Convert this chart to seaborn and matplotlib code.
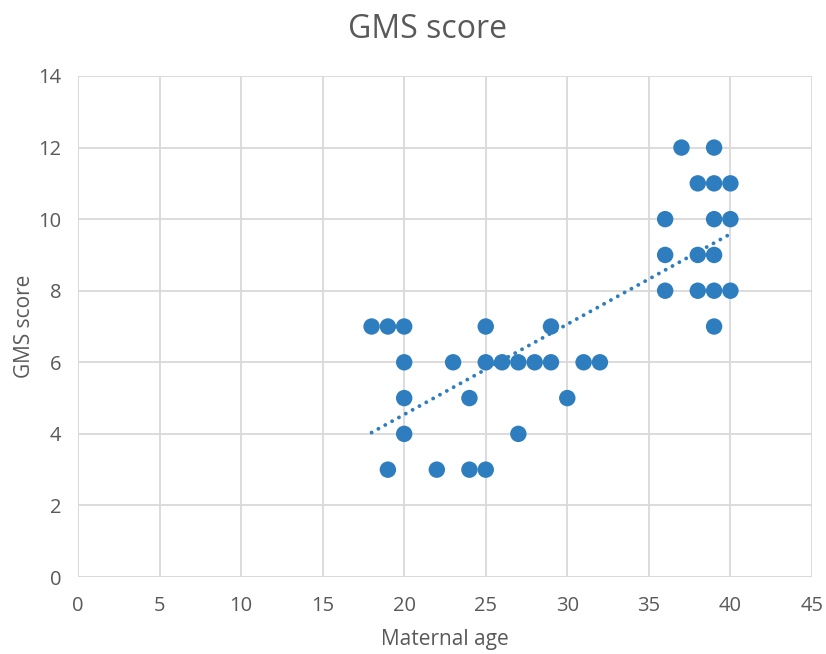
import numpy as np
import pandas as pd
import matplotlib
matplotlib.use("Agg")
import matplotlib.pyplot as plt
import seaborn as sb

# maternal age vs GMS score
maternal_age = [18, 19, 20, 25, 29,
                20, 23, 25, 26, 27, 28, 29, 31, 32,
                20, 24, 30,
                20, 27,
                19, 22, 24, 25,
                37, 39,
                38, 39, 40,
                36, 39, 40,
                36, 38, 39,
                36, 38, 39, 40,
                39]
gms_score = [7, 7, 7, 7, 7,
             6, 6, 6, 6, 6, 6, 6, 6, 6,
             5, 5, 5,
             4, 4,
             3, 3, 3, 3,
             12, 12,
             11, 11, 11,
             10, 10, 10,
             9, 9, 9,
             8, 8, 8, 8,
             7]
x_ticks = [0, 5, 10, 15, 20, 25, 30, 35, 40, 45]
y_ticks = [0, 2, 4, 6, 8, 10, 12, 14]

grey = "#595959"
grid = "#d9d9d9"
blue = "#2e7ebf"

data = pd.DataFrame({"Maternal age": maternal_age, "GMS score": gms_score})

sb.set_style("white")
plt.rcParams['font.family'] = ['Open Sans', 'DejaVu Sans']

fig = plt.figure(figsize=(8.26, 6.54), dpi=100)
ax = fig.add_axes([0.0944, 0.1177, 0.8886, 0.7661])

sb.scatterplot(data=data, x="Maternal age", y="GMS score", ax=ax,
               color=blue, s=140, edgecolor="none", zorder=3)

# linear trendline
slope, intercept = np.polyfit(maternal_age, gms_score, 1)
tx = np.array([min(maternal_age), max(maternal_age)])
ax.plot(tx, slope * tx + intercept, linestyle=(0, (0.01, 2.0)), color=blue,
        linewidth=2.8, dash_capstyle="round", zorder=2)

ax.set_xlim(0, 45)
ax.set_ylim(0, 14)
ax.set_xticks(x_ticks)
ax.set_yticks(y_ticks)
ax.grid(True, color=grid, linewidth=1.3)
ax.set_axisbelow(True)
for side in ["top", "right", "left", "bottom"]:
    ax.spines[side].set_visible(False)
ax.axhline(0, color=grid, linewidth=1.3, zorder=1)
ax.axvline(0, color=grid, linewidth=1.3, zorder=1)
ax.tick_params(axis="both", length=0, labelsize=14.5, labelcolor=grey)
ax.tick_params(axis="x", pad=14)
ax.tick_params(axis="y", pad=12)

ax.set_xlabel("Maternal age", fontsize=15, color=grey, labelpad=9)
ax.set_ylabel("GMS score", fontsize=15, color=grey, labelpad=2)
fig.text(0.517, 0.955, "GMS score", fontsize=23, color=grey,
         ha="center", va="center")

fig.savefig("out.png", dpi=100)
